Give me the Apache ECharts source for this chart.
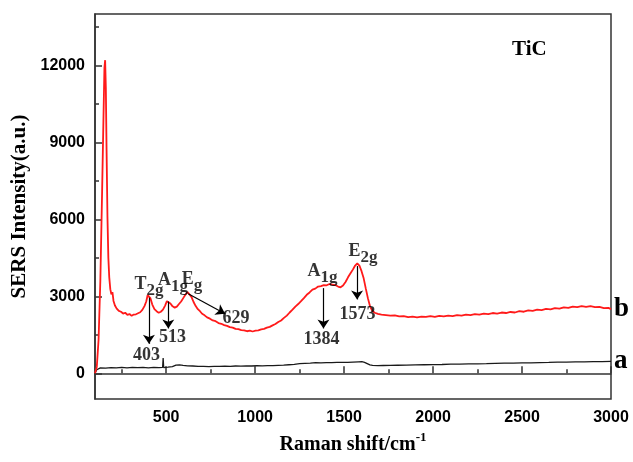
<!DOCTYPE html>
<html>
<head>
<meta charset="utf-8">
<script src="https://cdn.jsdelivr.net/npm/echarts@6.0.0/dist/echarts.min.js"></script>
<style>
html,body{margin:0;padding:0;background:#fff;}
#main{width:633px;height:462px;}
</style>
</head>
<body>
<div id="main"></div>
<script>
// spectrum b (red) and a (black), [Raman shift, intensity]
var ramanB = [
[100,0],[110,250],[120,1300],[130,3600],[140,7100],[148,10100],[153,11900],[157,12200],[161,11100],[165,8700],[170,6100],[175,4500],[180,3750],[186,3280],[192,3080],[198,3160],[204,2820],[212,2640],[222,2520],[234,2430],[246,2400],[258,2330],[270,2360],[282,2280],[294,2310],[306,2240],[318,2290],[330,2300],[342,2340],[354,2380],[366,2470],[378,2620],[388,2800],[396,3050],[404,3110],[412,2920],[422,2680],[434,2500],[446,2420],[458,2360],[470,2400],[482,2480],[494,2640],[504,2810],[514,2870],[524,2720],[536,2610],[548,2560],[560,2600],[572,2700],[584,2800],[596,2930],[608,3060],[620,3170],[630,3160],[642,2980],[654,2780],[666,2620],[678,2500],[690,2420],[702,2320],[716,2260],[730,2180],[746,2130],[762,2060],[778,2030],[794,1960],[810,1930],[826,1880],[842,1850],[858,1800],[874,1780],[890,1730],[906,1720],[922,1680],[938,1670],[954,1640],[970,1660],[986,1630],[1002,1660],[1018,1670],[1034,1710],[1050,1730],[1066,1780],[1082,1810],[1098,1870],[1114,1920],[1130,2000],[1146,2060],[1162,2160],[1178,2250],[1194,2370],[1210,2480],[1226,2600],[1242,2700],[1258,2810],[1274,2930],[1290,3060],[1306,3150],[1322,3260],[1338,3300],[1354,3380],[1370,3400],[1386,3440],[1402,3430],[1418,3480],[1434,3460],[1450,3440],[1466,3380],[1480,3350],[1494,3420],[1508,3560],[1522,3740],[1536,3900],[1550,4050],[1562,4200],[1574,4280],[1586,4200],[1598,3980],[1610,3700],[1622,3300],[1634,2920],[1646,2600],[1658,2440],[1672,2360],[1690,2320],[1710,2290],[1735,2270],[1760,2250],[1785,2260],[1810,2220],[1835,2230],[1860,2190],[1885,2210],[1910,2180],[1935,2210],[1960,2200],[1985,2230],[2010,2200],[2035,2240],[2060,2220],[2085,2250],[2110,2230],[2135,2270],[2160,2250],[2185,2290],[2210,2270],[2235,2310],[2260,2290],[2285,2330],[2310,2310],[2335,2350],[2360,2330],[2385,2370],[2410,2350],[2435,2390],[2460,2370],[2485,2420],[2510,2400],[2535,2450],[2560,2430],[2585,2480],[2610,2460],[2635,2510],[2660,2490],[2685,2540],[2710,2520],[2735,2570],[2760,2550],[2785,2600],[2810,2580],[2835,2620],[2860,2590],[2885,2620],[2910,2580],[2935,2590],[2960,2540],[2985,2550],[3000,2500]
];
var ramanA = [
[100,0],[104,20],[110,140],[118,190],[130,210],[160,200],[190,225],[220,210],[250,230],[280,215],[310,235],[340,220],[370,230],[400,215],[430,230],[460,225],[480,230],[483,600],[486,225],[510,240],[535,260],[555,320],[575,330],[595,310],[620,290],[650,285],[680,270],[710,275],[740,265],[770,275],[800,270],[830,280],[860,275],[890,285],[920,280],[950,290],[980,285],[1010,295],[1040,290],[1070,300],[1100,300],[1130,310],[1160,320],[1190,335],[1220,350],[1250,375],[1280,390],[1310,400],[1340,415],[1370,410],[1400,420],[1430,415],[1460,425],[1490,430],[1520,425],[1550,440],[1580,450],[1600,455],[1615,430],[1630,380],[1645,330],[1660,310],[1690,300],[1720,305],[1760,310],[1800,315],[1850,320],[1900,330],[1950,335],[2000,340],[2050,345],[2100,355],[2150,360],[2200,365],[2250,370],[2300,375],[2350,385],[2400,395],[2450,400],[2500,405],[2550,410],[2600,420],[2650,425],[2700,435],[2750,440],[2800,445],[2850,450],[2900,455],[2950,460],[3000,465]
];

var xTicks = [500, 1000, 1500, 2000, 2500, 3000];
var xMinorTicks = [250, 750, 1250, 1750, 2250, 2750];
var yTicks = [0, 3000, 6000, 9000, 12000];
var yMinorTicks = [1500, 4500, 7500, 10500, 13500];

// peak annotations
var peakNames = ['T', 'A', 'E', 'A', 'E'];
var peakSubs = ['2g', '1g', 'g', '1g', '2g'];
var peakNamePos = [[403, 3340], [538, 3520], [645, 3560], [1379, 3870], [1606, 4650]];
var peakShifts = ['403', '513', '629', '1384', '1573'];
var peakShiftPos = [[389, 684], [536, 1407], [893, 2130], [1373, 1310], [1575, 2306]];
var arrowFrom = [[403, 2950], [512, 2800], [624, 3100], [1384, 3320], [1573, 4180]];
var arrowTo = [[403, 1150], [512, 1750], [831, 2320], [1384, 1750], [1573, 2880]];

var serif = '"Liberation Serif", "Times New Roman", serif';
var sans = '"Liberation Sans", Arial, sans-serif';

var arrows = [];
for (var i = 0; i < arrowFrom.length; i++) {
    arrows.push([{coord: arrowFrom[i]}, {coord: arrowTo[i]}]);
}

var myChart = echarts.init(document.getElementById('main'));
var option = {
    animation: false,
    backgroundColor: '#fff',
    title: {
        text: 'TiC',
        left: 512,
        top: 39,
        padding: 0,
        textStyle: {fontFamily: serif, fontWeight: 'bold', fontSize: 21, color: '#000'}
    },
    grid: {
        left: 95, right: 22, top: 14, bottom: 63,
        show: true, borderColor: '#333', borderWidth: 1.5
    },
    xAxis: [{
        type: 'value',
        min: 100, max: 3000,
        name: '{m|Raman shift/cm}{s|-1}',
        nameLocation: 'middle',
        nameGap: 32,
        nameTextStyle: {
            rich: {
                m: {fontFamily: serif, fontWeight: 'bold', fontSize: 20, color: '#000', lineHeight: 24, verticalAlign: 'bottom'},
                s: {fontFamily: serif, fontWeight: 'bold', fontSize: 13, color: '#000', lineHeight: 24, verticalAlign: 'top'}
            }
        },
        splitLine: {show: false},
        axisLine: {lineStyle: {color: '#333', width: 1.5}},
        axisTick: {inside: true, length: 7, customValues: xTicks, lineStyle: {color: '#333', width: 1.5}},
        axisLabel: {
            customValues: xTicks,
            margin: 11,
            fontFamily: sans, fontWeight: 'bold', fontSize: 16, color: '#000',
            formatter: function (v) { return String(v); }
        }
    }, {
        type: 'value',
        min: 100, max: 3000,
        position: 'bottom',
        splitLine: {show: false},
        axisLine: {show: false},
        axisLabel: {show: false},
        axisTick: {inside: true, length: 4, customValues: xMinorTicks, lineStyle: {color: '#333', width: 1.5}}
    }],
    yAxis: [{
        type: 'value',
        min: -1000, max: 14000,
        name: 'SERS Intensity(a.u.)',
        nameLocation: 'middle',
        nameGap: 59,
        nameTextStyle: {fontFamily: serif, fontWeight: 'bold', fontSize: 21, color: '#000'},
        splitLine: {show: false},
        axisLine: {lineStyle: {color: '#333', width: 1.5}},
        axisTick: {inside: true, length: 7, customValues: yTicks, lineStyle: {color: '#333', width: 1.5}},
        axisLabel: {
            customValues: yTicks,
            margin: 10,
            fontFamily: sans, fontWeight: 'bold', fontSize: 16, color: '#000',
            formatter: function (v) { return String(v); }
        }
    }, {
        type: 'value',
        min: -1000, max: 14000,
        position: 'left',
        splitLine: {show: false},
        axisLine: {show: false},
        axisLabel: {show: false},
        axisTick: {inside: true, length: 4, customValues: yMinorTicks, lineStyle: {color: '#333', width: 1.5}}
    }],
    series: [
        {
            name: 'a',
            type: 'line',
            data: ramanA,
            showSymbol: false,
            lineStyle: {color: '#1a1a1a', width: 1.3},
            endLabel: {show: true, formatter: 'a', distance: 3, fontFamily: serif, fontWeight: 'bold', fontSize: 27, color: '#000'},
            silent: true
        },
        {
            name: 'b',
            type: 'line',
            data: ramanB,
            showSymbol: false,
            lineStyle: {color: '#ff1a1a', width: 1.8},
            endLabel: {show: true, formatter: 'b', distance: 3, fontFamily: serif, fontWeight: 'bold', fontSize: 27, color: '#000'},
            markLine: {
                silent: true,
                symbol: ['none', 'arrow'],
                symbolSize: 9,
                label: {show: false},
                lineStyle: {color: '#000', width: 1.2, type: 'solid'},
                data: arrows
            },
            silent: true
        },
        {
            type: 'scatter',
            data: peakNamePos,
            symbolSize: 0,
            silent: true,
            z: 5,
            label: {
                show: true,
                position: 'inside',
                formatter: function (p) {
                    return '{m|' + peakNames[p.dataIndex] + '}{s|' + peakSubs[p.dataIndex] + '}';
                },
                rich: {
                    m: {fontFamily: serif, fontWeight: 'bold', fontSize: 18, color: '#000', lineHeight: 18, verticalAlign: 'top'},
                    s: {fontFamily: serif, fontWeight: 'bold', fontSize: 17, color: '#000', lineHeight: 24, verticalAlign: 'bottom'}
                }
            }
        },
        {
            type: 'scatter',
            data: peakShiftPos,
            symbolSize: 0,
            silent: true,
            z: 5,
            label: {
                show: true,
                position: 'inside',
                formatter: function (p) { return peakShifts[p.dataIndex]; },
                fontFamily: serif, fontWeight: 'bold', fontSize: 18, color: '#000'
            }
        }
    ]
};
myChart.setOption(option);
</script>
</body>
</html>
